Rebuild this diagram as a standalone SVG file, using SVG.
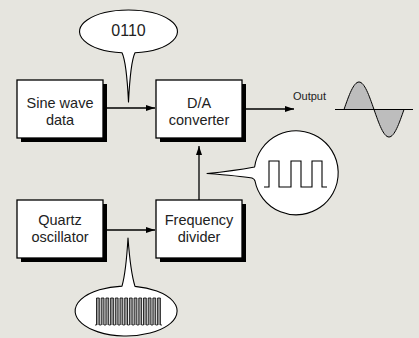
<svg xmlns="http://www.w3.org/2000/svg" width="419" height="338" viewBox="0 0 419 338">
  <style>
    .shadow { fill: #000; }
    .box { fill: #fff; stroke: #000; stroke-width: 1.3; }
    .lbl { font-family: "Liberation Sans", Arial, sans-serif; font-size: 14.5px; fill: #222; text-anchor: middle; }
    .conn { stroke: #000; stroke-width: 1.3; fill: none; }
    .bubble { fill: #fff; stroke: #000; stroke-width: 1.1; stroke-linejoin: round; }
    .wave { stroke: #000; stroke-width: 1; }
  </style>
  <defs>
    <marker id="arrow" markerWidth="10" markerHeight="8" refX="9" refY="3" orient="auto" markerUnits="userSpaceOnUse">
      <path d="M0,0 L9,3 L0,6 Z" fill="#000"/>
    </marker>
  </defs>
  <rect x="0" y="0" width="419" height="338" fill="#e6e5df"/>

  <g id="connectors">
    <line class="conn" x1="103" y1="108" x2="155" y2="108" marker-end="url(#arrow)"/>
    <line class="conn" x1="103" y1="230" x2="155" y2="230" marker-end="url(#arrow)"/>
    <line class="conn" x1="199" y1="200" x2="199" y2="146" marker-end="url(#arrow)"/>
    <line class="conn" x1="242" y1="109" x2="294" y2="109" marker-end="url(#arrow)"/>
  </g>

  <g id="sine-data">
    <rect class="shadow" x="21" y="84" width="86" height="58"/>
    <rect class="box" x="17" y="80" width="86" height="58"/>
    <text class="lbl" x="60" y="108">Sine wave</text>
    <text class="lbl" x="60" y="125">data</text>
  </g>

  <g id="da-converter">
    <rect class="shadow" x="160" y="84" width="86" height="58"/>
    <rect class="box" x="156" y="80" width="86" height="58"/>
    <text class="lbl" x="199" y="108">D/A</text>
    <text class="lbl" x="199" y="125">converter</text>
  </g>

  <g id="quartz-oscillator">
    <rect class="shadow" x="21" y="204" width="86" height="58"/>
    <rect class="box" x="17" y="200" width="86" height="58"/>
    <text class="lbl" x="60" y="224.5">Quartz</text>
    <text class="lbl" x="60" y="241.5">oscillator</text>
  </g>

  <g id="frequency-divider">
    <rect class="shadow" x="160" y="204" width="86" height="58"/>
    <rect class="box" x="156" y="200" width="86" height="58"/>
    <text class="lbl" x="199" y="224.5">Frequency</text>
    <text class="lbl" x="199" y="241.5">divider</text>
  </g>

  <g id="bubble-0110">
    <path class="bubble" d="M122,52.8 A49,21.5 0 1 1 135,52.8 Q130.5,62 128.5,102 Q126.5,62 122,52.8 Z"/>
    <text x="128.5" y="36" font-family="Liberation Sans, Arial, sans-serif" font-size="16" fill="#222" text-anchor="middle">0110</text>
  </g>

  <g id="bubble-square">
    <path class="bubble" d="M255,181 A42,42 0 1 0 254.6,167 Q233,171 207,173.5 Q240,176 252,178 Q254.5,179 255,181 Z"/>
    <path d="M264,187 H269 V161 H279 V187 H291 V161 H301 V187 H312 V161 H322 V187 H327" fill="none" stroke="#000" stroke-width="1.1"/>
  </g>

  <g id="bubble-clock">
    <path class="bubble" d="M135,286.4 A51,25 0 1 1 122,286.1 Q126,272 128,238 Q130.5,272 135,286.4 Z"/>
    <path d="M95,325 H96.5 V298 H99.3 V325 H101.2 V298 H104 V325 H105.9 V298 H108.7 V325 H110.6 V298 H113.4 V325 H115.3 V298 H118.1 V325 H120 V298 H122.8 V325 H124.7 V298 H127.5 V325 H129.4 V298 H132.2 V325 H134.1 V298 H136.9 V325 H138.8 V298 H141.6 V325 H143.5 V298 H146.3 V325 H148.2 V298 H151 V325 H152.9 V298 H155.7 V325 H157.6 V298 H160.4 V325 H162" fill="#9a9a9a" stroke="#000" stroke-width="0.8"/>
  </g>

  <g id="output">
    <text x="293" y="100" font-family="Liberation Sans, Arial, sans-serif" font-size="11" fill="#222">Output</text>
    <path class="wave" fill="#bdbdbd" d="M344,109.5 C348.89,95.41 353.57,82 359,82 C364.43,82 369.11,95.41 374,109.5 C378.89,123.59 383.57,137 389,137 C394.43,137 399.11,123.59 404,109.5 Z"/>
    <line x1="335" y1="109.5" x2="413" y2="109.5" stroke="#000" stroke-width="1"/>
  </g>
</svg>
